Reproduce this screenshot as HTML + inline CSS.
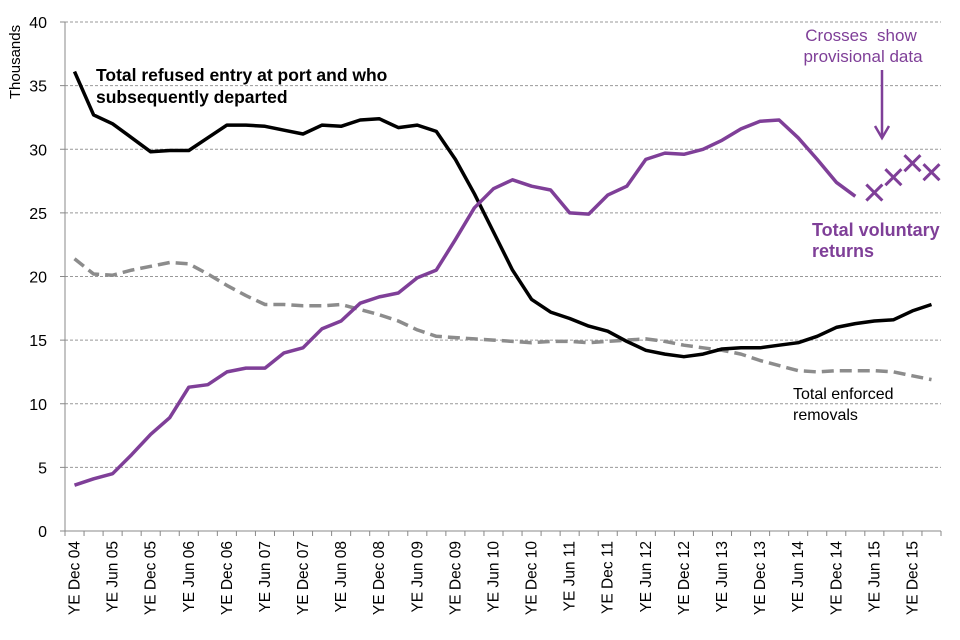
<!DOCTYPE html>
<html><head><meta charset="utf-8"><style>
html,body{margin:0;padding:0;background:#fff;}
svg{display:block;font-family:"Liberation Sans",Arial,sans-serif;}
</style></head><body>
<svg id="chart" width="960" height="640" viewBox="0 0 960 640">
<g id="grid"></g>
<g id="yaxis"></g>
<g id="xaxis"></g>
<g id="series"></g>
<text x="20" y="62" transform="rotate(-90 20 62)" text-anchor="middle" font-size="15" fill="#000">Thousands</text>
<g font-size="17.5" font-weight="bold" fill="#000">
<text x="96" y="81">Total refused entry at port and who</text>
<text x="96" y="103">subsequently departed</text></g>
<g font-size="17" fill="#7f3f98" text-anchor="middle">
<text x="861" y="41" xml:space="preserve">Crosses  show</text>
<text x="863" y="62">provisional data</text></g>
<g stroke="#7f3f98" stroke-width="2.5" fill="none">
<line x1="882" y1="70" x2="882" y2="136"/>
<polyline points="875,126 882,138 889,126"/></g>
<g font-size="18" font-weight="bold" fill="#7f3f98">
<text x="812" y="236">Total voluntary</text>
<text x="812" y="257">returns</text></g>
<g font-size="16" fill="#000">
<text x="793" y="399">Total enforced</text>
<text x="793" y="420">removals</text></g>
</svg>
<script>
const categories=["Dec 04","Mar 05","Jun 05","Sep 05","Dec 05","Mar 06","Jun 06","Sep 06","Dec 06","Mar 07","Jun 07","Sep 07","Dec 07","Mar 08","Jun 08","Sep 08","Dec 08","Mar 09","Jun 09","Sep 09","Dec 09","Mar 10","Jun 10","Sep 10","Dec 10","Mar 11","Jun 11","Sep 11","Dec 11","Mar 12","Jun 12","Sep 12","Dec 12","Mar 13","Jun 13","Sep 13","Dec 13","Mar 14","Jun 14","Sep 14","Dec 14","Mar 15","Jun 15","Sep 15","Dec 15","Mar 16"];
const refused=[36.1,32.7,32.0,30.9,29.8,29.9,29.9,30.9,31.9,31.9,31.8,31.5,31.2,31.9,31.8,32.3,32.4,31.7,31.9,31.4,29.2,26.5,23.5,20.5,18.2,17.2,16.7,16.1,15.7,14.9,14.2,13.9,13.7,13.9,14.3,14.4,14.4,14.6,14.8,15.3,16.0,16.3,16.5,16.6,17.3,17.8];
const voluntary=[3.6,4.1,4.5,6.0,7.6,8.9,11.3,11.5,12.5,12.8,12.8,14.0,14.4,15.9,16.5,17.9,18.4,18.7,19.9,20.5,22.9,25.4,26.9,27.6,27.1,26.8,25.0,24.9,26.4,27.1,29.2,29.7,29.6,30.0,30.7,31.6,32.2,32.3,30.9,29.2,27.4,26.3];
const voluntaryProvisional=[26.6,27.8,28.9,28.2];
const enforced=[21.4,20.2,20.1,20.5,20.8,21.1,21.0,20.2,19.3,18.5,17.8,17.8,17.7,17.7,17.8,17.4,17.0,16.5,15.8,15.3,15.2,15.1,15.0,14.9,14.8,14.9,14.9,14.8,14.9,15.0,15.1,14.9,14.6,14.4,14.2,13.9,13.4,13.0,12.6,12.5,12.6,12.6,12.6,12.5,12.2,11.9];
const yTicks=[0,5,10,15,20,25,30,35,40];

const NS="http://www.w3.org/2000/svg";
const X0=65,X1=941,Y0=531,Y1=22,YMAX=40;
const step=(X1-X0)/categories.length;
const xs=i=>X0+step*(i+0.5);
const ys=v=>Y0-(v/YMAX)*(Y0-Y1);
function mk(tag,attrs,parent){const e=document.createElementNS(NS,tag);for(const k in attrs)e.setAttribute(k,attrs[k]);parent.appendChild(e);return e;}
const grid=document.getElementById('grid'),ya=document.getElementById('yaxis'),xa=document.getElementById('xaxis'),se=document.getElementById('series');
yTicks.forEach(t=>{
  if(t>0){const g=mk('line',{x1:X0,x2:X1,y1:ys(t),y2:ys(t),stroke:'#999','stroke-dasharray':'3,2','stroke-width':1},grid);
  
  }
  const tk=mk('line',{x1:X0-5,x2:X0,y1:ys(t),y2:ys(t),stroke:'#888'},ya);
  
  
  const lb=mk('text',{x:X0-18,y:ys(t)+6,'text-anchor':'end','font-size':16},ya);lb.textContent=t;
  
  
});
const yl=mk('line',{x1:X0,x2:X0,y1:Y1,y2:Y0,stroke:'#888'},ya);


const xl=mk('line',{x1:X0-5,x2:X1,y1:Y0,y2:Y0,stroke:'#888'},xa);


for(let i=0;i<=categories.length;i++){const tk=mk('line',{x1:X0+step*i,x2:X0+step*i,y1:Y0,y2:Y0+5,stroke:'#888'},xa);
  
  }
categories.forEach((c,i)=>{
  if(i%2) return;
  const x=xs(i)+5,y=Y0+10;
  const t=mk('text',{x:x,y:y,transform:`rotate(-90 ${x} ${y})`,'text-anchor':'end','font-size':15.5},xa);
  t.textContent='YE '+c;
  
  
});
function line(data,offset,attrs,name){
  const pts=data.map((v,i)=>xs(i+offset).toFixed(1)+','+ys(v).toFixed(1)).join(' ');
  const p=mk('polyline',Object.assign({points:pts,fill:'none','stroke-linejoin':'round'},attrs),se);
  
  
}
line(enforced,0,{stroke:'#8c8c8c','stroke-width':3.5,'stroke-dasharray':'12,6'},'enforced-removals-line');
line(refused,0,{stroke:'#000','stroke-width':3.5},'refused-entry-line');
line(voluntary,0,{stroke:'#7f3f98','stroke-width':3.5},'voluntary-returns-line');
voluntaryProvisional.forEach((v,j)=>{
  const cx=xs(voluntary.length+j),cy=ys(v),r=8;
  const g=mk('path',{d:`M${cx-r},${cy-r}L${cx+r},${cy+r}M${cx-r},${cy+r}L${cx+r},${cy-r}`,stroke:'#7f3f98','stroke-width':3,fill:'none'},se);
  
  
});
</script>
</body></html>
